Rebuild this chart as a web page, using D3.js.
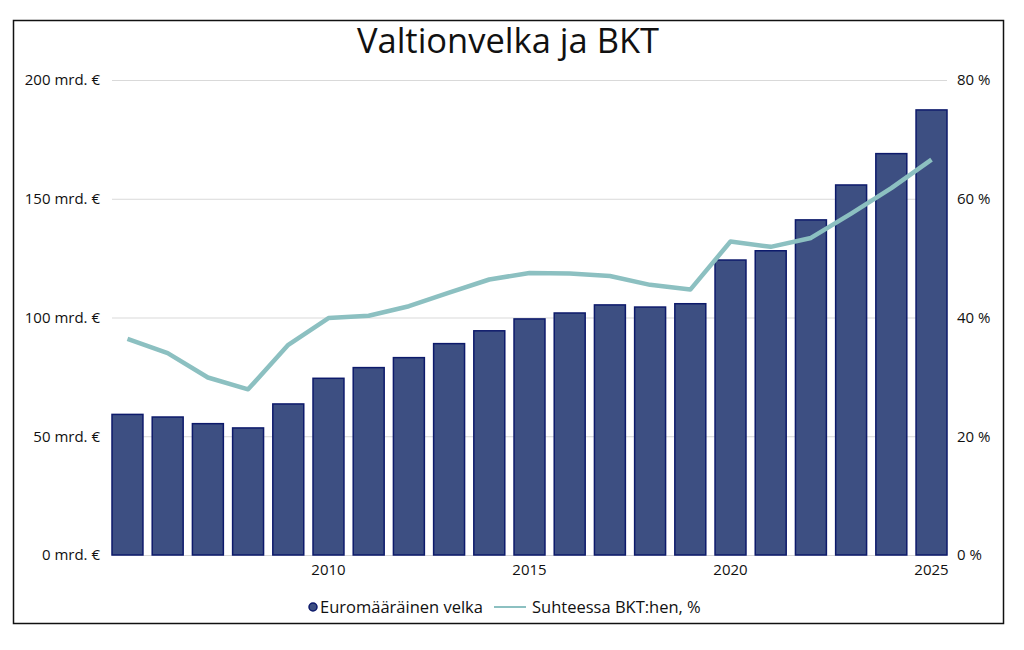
<!DOCTYPE html>
<html lang="fi">
<head>
<meta charset="utf-8">
<title>Valtionvelka ja BKT</title>
<script src="https://d3js.org/d3.v7.min.js"></script>
<style>
  body { margin: 0; background: #fff; }
  text { font-family: "Open Sans", sans-serif; fill: #111; }
</style>
</head>
<body>
<chart></chart>
<script>
// Vuodet ja arvot luettu kuvasta
const years = d3.range(2005, 2026);
const debt = [59.2, 58.1, 55.3, 53.5, 63.6, 74.4, 78.9, 83.1, 89.0, 94.4, 99.4,
              101.9, 105.3, 104.4, 105.8, 124.2, 128.1, 141.1, 155.8, 169.0, 187.4];
const ratio = [36.4, 34.0, 29.9, 27.9, 35.4, 39.9, 40.3, 41.9, 44.2, 46.4, 47.5,
               47.4, 47.0, 45.5, 44.7, 52.8, 51.9, 53.4, 57.5, 61.8, 66.6];
const leftTicks = [0, 50, 100, 150, 200];
const rightTicks = [0, 20, 40, 60, 80];
const xLabels = [2010, 2015, 2020, 2025];

var W = 1024, H = 650;
var margin = { top: 80, right: 77, bottom: 95, left: 112 },
    width = W - margin.left - margin.right,
    height = H - margin.top - margin.bottom;

var svg = d3.select("chart").append("svg")
    .attr("width", W).attr("height", H);

// frame
svg.append("rect")
    .attr("x", 13.5).attr("y", 20.5)
    .attr("width", 990).attr("height", 603)
    .attr("fill", "none").attr("stroke", "#111").attr("stroke-width", 1.5);

svg.append("text")
    .attr("x", 508).attr("y", 53)
    .attr("text-anchor", "middle")
    .style("font-size", "34.5px")
    .text("Valtionvelka ja BKT");

var g = svg.append("g")
    .attr("transform", "translate(" + margin.left + "," + margin.top + ")");

var x = d3.scaleBand().domain(years).range([0, width])
    .paddingInner(0.23).paddingOuter(0);
var y = d3.scaleLinear().domain([0, 200]).range([height, 0]);
var y2 = d3.scaleLinear().domain([0, 80]).range([height, 0]);

// gridlines
g.append("g")
    .call(d3.axisLeft(y).tickValues(leftTicks).tickSize(-width).tickFormat(""))
    .call(a => a.select(".domain").remove())
    .call(a => a.selectAll("line").attr("stroke", "#d9d9d9").attr("stroke-width", 1.2));

// left axis labels
g.append("g")
    .call(d3.axisLeft(y).tickValues(leftTicks).tickSize(0).tickPadding(12)
        .tickFormat(d => d + " mrd. €"))
    .call(a => a.select(".domain").remove())
    .call(a => a.selectAll("text").style("font-size", "15px").attr("fill", "#111"));

// right axis labels
g.append("g")
    .attr("transform", "translate(" + width + ",0)")
    .call(d3.axisRight(y2).tickValues(rightTicks).tickSize(0).tickPadding(10)
        .tickFormat(d => d + " %"))
    .call(a => a.select(".domain").remove())
    .call(a => a.selectAll("text").style("font-size", "15px").attr("fill", "#111"));

// x axis labels
g.append("g")
    .attr("transform", "translate(0," + height + ")")
    .call(d3.axisBottom(x).tickValues(xLabels).tickSize(0).tickPadding(9))
    .call(a => a.select(".domain").remove())
    .call(a => a.selectAll("text").style("font-size", "15px").attr("fill", "#111"));

// bars
g.selectAll(".bar")
    .data(years)
    .enter().append("rect")
    .attr("class", "bar")
    .attr("x", d => x(d))
    .attr("width", x.bandwidth())
    .attr("y", (d, i) => y(debt[i]))
    .attr("height", (d, i) => height - y(debt[i]))
    .attr("fill", "#3d4f82")
    .attr("stroke", "#0d1a6b")
    .attr("stroke-width", 1.5);

// line
var line = d3.line()
    .x((d, i) => x(years[i]) + x.bandwidth() / 2)
    .y(d => y2(d));

g.append("path")
    .datum(ratio)
    .attr("d", line)
    .attr("fill", "none")
    .attr("stroke", "#8cc0c1")
    .attr("stroke-width", 4.5)
    .attr("stroke-linejoin", "round");

// legend
var lg = svg.append("g").attr("transform", "translate(0,607)");
lg.append("circle").attr("cx", 313).attr("cy", 0).attr("r", 4)
    .attr("fill", "#3d4f82").attr("stroke", "#0d1a6b").attr("stroke-width", 1.5);
lg.append("text").attr("x", 320).attr("y", 0).attr("dy", "0.35em")
    .style("font-size", "16.5px").text("Euromääräinen velka");
lg.append("line").attr("x1", 494).attr("x2", 526).attr("y1", 0).attr("y2", 0)
    .attr("stroke", "#8cc0c1").attr("stroke-width", 2);
lg.append("text").attr("x", 532).attr("y", 0).attr("dy", "0.35em")
    .style("font-size", "16.5px").text("Suhteessa BKT:hen, %");
</script>
</body>
</html>
